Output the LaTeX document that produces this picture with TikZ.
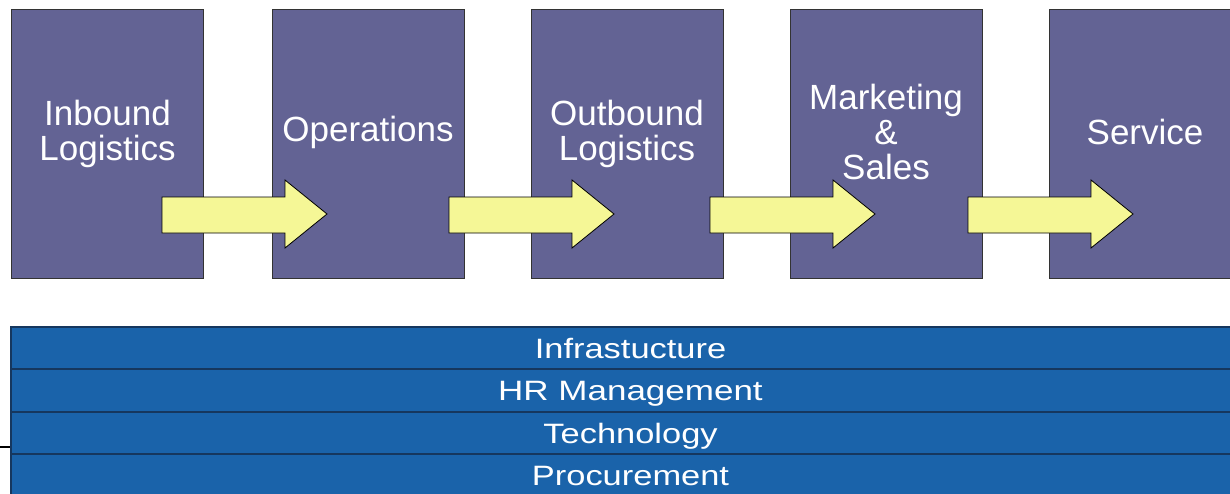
\documentclass[tikz,border=0pt]{standalone}
\usepackage{fontspec}
\setmainfont{Liberation Sans}
\usetikzlibrary{positioning}

\definecolor{stagefill}{RGB}{99,99,148}
\definecolor{arrowyellow}{RGB}{245,247,150}
\definecolor{barblue}{RGB}{26,99,170}
\definecolor{barline}{RGB}{22,55,94}

\begin{document}
\begin{tikzpicture}[x=1pt,y=-1pt]

\tikzset{stage/.style = {shape=rectangle, draw=black!80, line width=0.8pt, fill=stagefill, minimum width=192pt, minimum height=269pt, inner sep=0pt}}
\tikzset{stagetext/.style = {text=white, align=center, font=\fontsize{35}{35}\selectfont}}
\tikzset{flow/.style = {draw=black, line width=0.8pt, fill=arrowyellow, line join=miter}}
\tikzset{support/.style = {shape=rectangle, draw=barline, line width=1.8pt, fill=barblue, minimum width=1239pt, minimum height=42.5pt, inner sep=0pt, text=white, text height=20pt, text depth=0pt, font=\fontsize{28}{28}\selectfont}}

\useasboundingbox (0,0) rectangle (1230,493);

%primary activities
\node[stage] (ib) at (107.5,143.5) {};
\node[stage] (op) at (368,143.5) {};
\node[stage] (ob) at (627,143.5) {};
\node[stage] (ms) at (886,143.5) {};
\node[stage] (sv) at (1145,143.5) {};
%arrows
\foreach \x in {162,449,710,968}
  \draw[flow] (\x,197) -- ++(123,0) -- ++(0,-17) -- ++(42,34) -- ++(-42,34) -- ++(0,-15) -- ++(-123,0) -- cycle;
%labels
\node[stagetext] (ibt) at ([yshift=10pt]ib.center) {Inbound\\Logistics};
\node[stagetext] (opt) at ([yshift=11pt]op.center) {Operations};
\node[stagetext] (obt) at ([yshift=10pt]ob.center) {Outbound\\Logistics};
\node[stagetext] (mst) at ([yshift=12pt]ms.center) {Marketing\\\&\\Sales};
\node[stagetext] (svt) at ([yshift=12pt]sv.center) {Service};

%support activities
\node[support] (inf) at (630.5,348) {\scalebox{1.23}[1]{Infrastucture}};
\node[support] (hrm) at (630.5,390.5) {\scalebox{1.25}[1]{HR Management}};
\node[support] (tech) at (630.5,433) {\scalebox{1.23}[1]{Technology}};
\node[support] (proc) at (630.5,475.5) {\scalebox{1.23}[1]{Procurement}};
\coordinate (stub) at (0,447);
\draw[line width=1.2pt] (stub) -- (stub -| tech.west);

\end{tikzpicture}
\end{document}
